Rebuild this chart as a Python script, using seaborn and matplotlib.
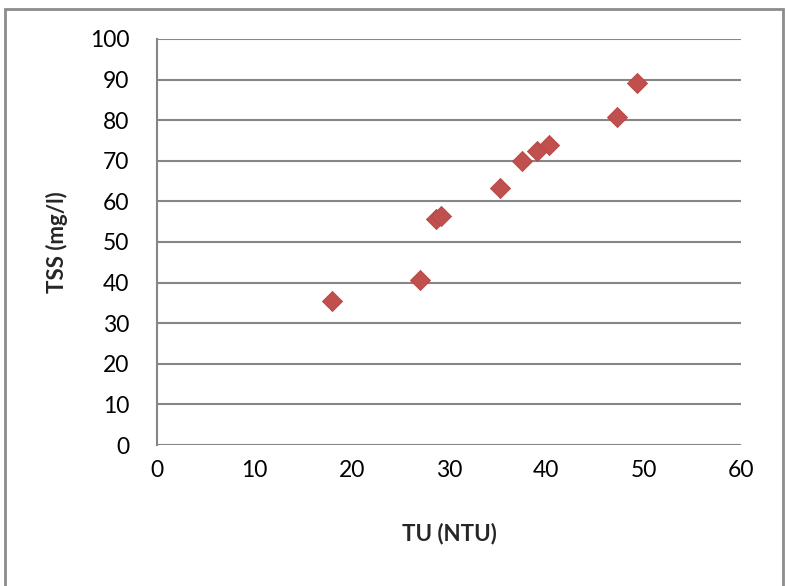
import matplotlib
matplotlib.use("Agg")
import matplotlib.pyplot as plt
import seaborn as sns
import pandas as pd
from matplotlib.patches import Rectangle

tu = [18.0, 27.0, 28.7, 29.2, 35.2, 37.5, 39.0, 40.3, 47.3, 49.3]
tss = [35.5, 40.6, 55.7, 56.5, 63.3, 70.0, 72.4, 73.9, 80.8, 89.2]
x_ticks = [0, 10, 20, 30, 40, 50, 60]
y_ticks = [0, 10, 20, 30, 40, 50, 60, 70, 80, 90, 100]

df = pd.DataFrame({"TU (NTU)": tu, "TSS (mg/l)": tss})

sns.set_style("white")
plt.rcParams["font.family"] = ["Lato", "DejaVu Sans"]

fig = plt.figure(figsize=(7.85, 5.86), dpi=100)
ax = fig.add_axes([157 / 785, 1 - 445 / 586, (741 - 157) / 785, (445 - 39) / 586])

sns.scatterplot(data=df, x="TU (NTU)", y="TSS (mg/l)", marker="D", s=105,
                color="#C0504D", edgecolor="#B94643", linewidth=0.6, ax=ax, zorder=3)

ax.set_xlim(0, 60)
ax.set_ylim(0, 100)
ax.set_xticks(x_ticks)
ax.set_yticks(y_ticks)
ax.yaxis.grid(True, color="#868686", linewidth=1.5)
ax.xaxis.grid(False)
ax.set_axisbelow(True)
for s in ["top", "right", "bottom"]:
    ax.spines[s].set_visible(False)
ax.spines["left"].set_color("#868686")
ax.spines["left"].set_linewidth(1.5)
ax.tick_params(axis="both", length=0, labelsize=16.5, colors="black")
ax.tick_params(axis="y", pad=20)
ax.tick_params(axis="x", pad=11)
ax.set_xlabel("TU (NTU)", fontsize=16, fontweight="bold", labelpad=30)
ax.set_ylabel("TSS (mg/l)", fontsize=16, fontweight="bold", labelpad=16)

fig.patches.append(Rectangle((5 / 785, -0.05), 778 / 785, 1.05 - 9 / 586,
                             transform=fig.transFigure, fill=False,
                             edgecolor="#8C8C8C", linewidth=2, clip_on=False))

fig.savefig("out.png", dpi=100)
